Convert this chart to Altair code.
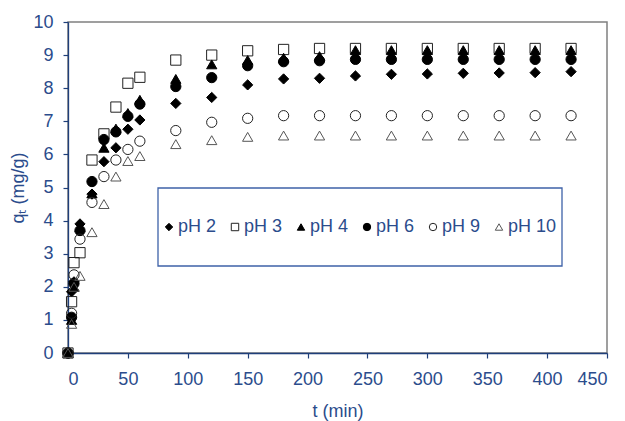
import altair as alt
import pandas as pd

times = [0, 3, 5, 10, 20, 30, 40, 50, 60, 90, 120, 150, 180, 210, 240, 270, 300, 330, 360, 390, 420]

ph2 = [0, 1.85, 2.15, 3.9, 4.8, 5.78, 6.2, 6.76, 7.04, 7.54, 7.72, 8.1, 8.28, 8.3, 8.37, 8.42, 8.43, 8.45, 8.46, 8.47, 8.5]
ph3 = [0, 1.55, 2.73, 3.03, 5.83, 6.62, 7.43, 8.15, 8.33, 8.85, 9.0, 9.13, 9.17, 9.2, 9.2, 9.2, 9.2, 9.2, 9.2, 9.2, 9.2]
ph4 = [0, 1.0, 2.0, 3.8, 4.82, 6.2, 6.78, 7.25, 7.65, 8.28, 8.72, 8.85, 8.92, 8.97, 9.15, 9.15, 9.15, 9.15, 9.15, 9.15, 9.15]
ph6 = [0, 1.08, 2.1, 3.7, 5.18, 6.45, 6.68, 7.15, 7.52, 8.05, 8.32, 8.68, 8.8, 8.83, 8.87, 8.87, 8.87, 8.87, 8.87, 8.87, 8.87]
ph9 = [0, 1.2, 2.36, 3.44, 4.55, 5.33, 5.83, 6.15, 6.4, 6.72, 6.97, 7.09, 7.17, 7.17, 7.17, 7.17, 7.17, 7.17, 7.17, 7.17, 7.17]
ph10 = [0, 0.88, 2.0, 2.33, 3.65, 4.5, 5.33, 5.8, 5.95, 6.31, 6.43, 6.53, 6.57, 6.57, 6.57, 6.57, 6.57, 6.57, 6.57, 6.57, 6.57]

series_names = ["pH 2", "pH 3", "pH 4", "pH 6", "pH 9", "pH 10"]
series_values = [ph2, ph3, ph4, ph6, ph9, ph10]
shapes = ["diamond", "square", "triangle-up", "circle", "circle", "triangle-up"]
fills = ["black", "transparent", "black", "black", "transparent", "transparent"]
strokes = ["black", "#222222", "black", "black", "#222222", "#555555"]

rows = []
for name, vals in zip(series_names, series_values):
    for t, q in zip(times, vals):
        rows.append({"t": t, "q": q, "series": name})
df = pd.DataFrame(rows)

TEXT = "#2B4C8C"
AXIS = "#1F3F7A"
FONT = "Liberation Sans"

box = alt.Chart(pd.DataFrame({"k": [0]})).mark_rect(
    fill="white", stroke="#3E62A8", strokeWidth=1.3
).encode(
    x=alt.value(90), x2=alt.value(494), y=alt.value(166), y2=alt.value(244)
)

legend = alt.Legend(
    title=None, orient="none", direction="horizontal", legendX=92, legendY=196,
    labelFont=FONT, labelFontSize=18, labelColor=TEXT, symbolSize=55,
    symbolStrokeWidth=1, columnPadding=9, labelOffset=0, padding=0,
)

points = alt.Chart(df).mark_point(filled=False, size=105, strokeWidth=1, opacity=1).encode(
    x=alt.X("t:Q", scale=alt.Scale(domain=[0, 450], nice=False),
            axis=alt.Axis(title="t (min)", values=list(range(0, 451, 50)),
                          labelPadding=12, titlePadding=14)),
    y=alt.Y("q:Q", scale=alt.Scale(domain=[0, 10], nice=False),
            axis=alt.Axis(title="qₜ (mg/g)", values=list(range(0, 11)),
                          labelPadding=10, titlePadding=5)),
    shape=alt.Shape("series:N", scale=alt.Scale(domain=series_names, range=shapes), legend=legend, sort=series_names),
    fill=alt.Fill("series:N", scale=alt.Scale(domain=series_names, range=fills), legend=legend, sort=series_names),
    stroke=alt.Stroke("series:N", scale=alt.Scale(domain=series_names, range=strokes), legend=legend, sort=series_names),
    order=alt.Order("order:Q"),
).transform_calculate(
    order="indexof(['pH 2','pH 3','pH 4','pH 6','pH 9','pH 10'], datum.series)"
)

chart = alt.layer(box, points).properties(
    width=539, height=331,
    autosize=alt.AutoSizeParams(type="none"),
    padding={"left": 68, "top": 22, "right": 18, "bottom": 68},
).configure_view(
    stroke="#808080", strokeWidth=1.5
).configure_axis(
    domainColor=AXIS, domainWidth=1.3, tickColor=AXIS, tickSize=5, tickWidth=1.2,
    grid=False, labelFont=FONT, labelFontSize=18, labelColor=TEXT,
    titleFont=FONT, titleFontSize=18, titleColor=TEXT, titleFontWeight="normal",
)

chart.save("out.html", embed_options={"renderer": "svg", "actions": False})
